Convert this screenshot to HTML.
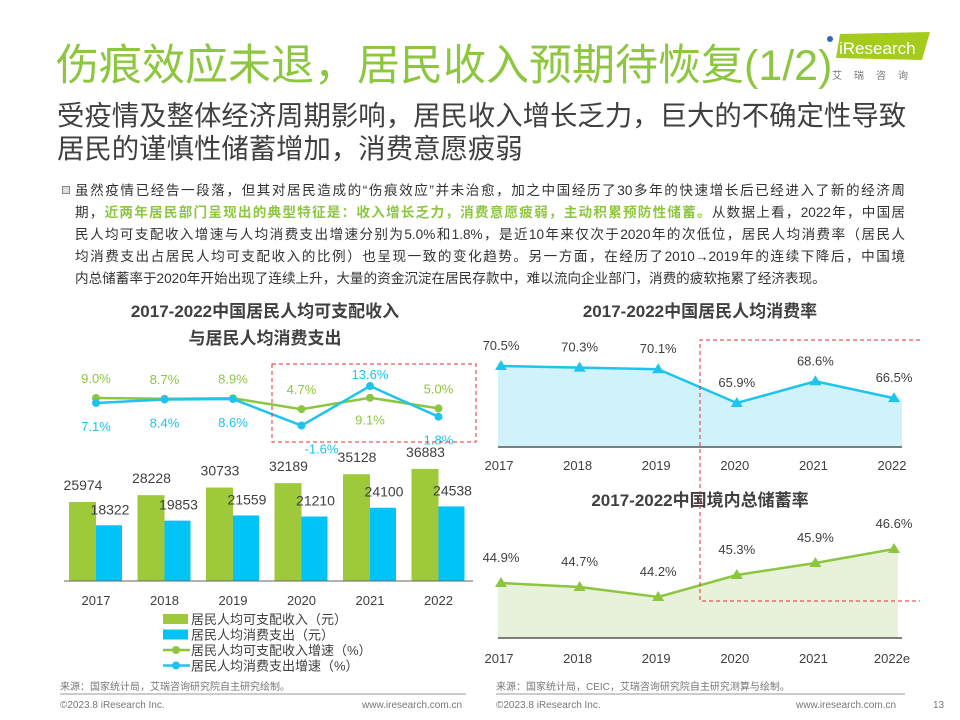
<!DOCTYPE html>
<html><head><meta charset="utf-8">
<style>
body{margin:0;width:960px;height:720px;background:#fff;position:relative;overflow:hidden;font-family:"Liberation Sans","Noto Sans CJK SC",sans-serif;}
.abs{position:absolute;}
#title{left:56px;top:39px;font-size:43px;color:#8dc63f;white-space:nowrap;line-height:55px;}
#sub{left:57px;top:99px;font-size:27.4px;color:#404040;line-height:33px;white-space:nowrap;}
#para{left:75px;top:180px;width:830px;font-size:13.6px;color:#333;line-height:22px;}
#para div{text-align:justify;text-align-last:justify;white-space:nowrap;}
#para div.last{text-align-last:left;}
.g{color:#8dc63f;font-weight:bold;}
.bullet{left:62px;top:186px;width:8px;height:8px;border:1px solid #888;background:#ddd;box-sizing:border-box;}
svg text{font-family:"Liberation Sans","Noto Sans CJK SC",sans-serif;}
</style></head><body>
<div id="title" class="abs">伤痕效应未退，居民收入预期待恢复(1/2)</div>
<div class="abs" style="left:822px;top:28px;width:120px;height:60px;">
 <svg width="120" height="60"><polygon points="18,6 108,4 100,32 14,30" fill="#a5cc1c"/><circle cx="8" cy="11" r="3" fill="#2a6ab8"/>
 <text x="17" y="26" font-size="17" fill="#fff">iResearch</text>
 <text x="10" y="51" font-size="10" fill="#777" letter-spacing="12">艾瑞咨询</text></svg>
</div>
<div id="sub" class="abs">受疫情及整体经济周期影响，居民收入增长乏力，巨大的不确定性导致<br>居民的谨慎性储蓄增加，消费意愿疲弱</div>
<div class="abs bullet"></div>
<div id="para" class="abs">
<div>虽然疫情已经告一段落，但其对居民造成的“伤痕效应”并未治愈，加之中国经历了30多年的快速增长后已经进入了新的经济周</div>
<div>期，<span class="g">近两年居民部门呈现出的典型特征是：收入增长乏力，消费意愿疲弱，主动积累预防性储蓄。</span>从数据上看，2022年，中国居</div>
<div>民人均可支配收入增速与人均消费支出增速分别为5.0%和1.8%，是近10年来仅次于2020年的次低位，居民人均消费率（居民人</div>
<div>均消费支出占居民人均可支配收入的比例）也呈现一致的变化趋势。另一方面，在经历了2010→2019年的连续下降后，中国境</div>
<div class="last">内总储蓄率于2020年开始出现了连续上升，大量的资金沉淀在居民存款中，难以流向企业部门，消费的疲软拖累了经济表现。</div>
</div>
<svg id="chart" class="abs" style="left:0;top:0" width="960" height="720"></svg>
<script>
const years = ['2017','2018','2019','2020','2021','2022'];
const income = [25974,28228,30733,32189,35128,36883];
const spend = [18322,19853,21559,21210,24100,24538];
const incomeGrowth = [9.0,8.7,8.9,4.7,9.1,5.0];
const spendGrowth = [7.1,8.4,8.6,-1.6,13.6,1.8];
const consYears = ['2017','2018','2019','2020','2021','2022'];
const consRate = [70.5,70.3,70.1,65.9,68.6,66.5];
const saveYears = ['2017','2018','2019','2020','2021','2022e'];
const saveRate = [44.9,44.7,44.2,45.3,45.9,46.6];

const svg=document.getElementById('chart');
const NS='http://www.w3.org/2000/svg';
function mk(tag,attrs,txt){const e=document.createElementNS(NS,tag);for(const k in attrs)e.setAttribute(k,attrs[k]);if(txt!==undefined)e.textContent=txt;svg.appendChild(e);return e;}
const GREEN='#9dc93a', BLUE='#10c4f4', CBLUE='#1ec4ee', LGREEN='#8cc63f';

const lx=i=>96+i*68.5;
const by=v=>581-v*0.00304;
const gy=v=>421.4-2.6*v;
let t;
t=mk('text',{x:265,y:317,'font-size':17,'font-weight':'bold','text-anchor':'middle',fill:'#404040'},'2017-2022中国居民人均可支配收入');


t=mk('text',{x:265,y:344,'font-size':17,'font-weight':'bold','text-anchor':'middle',fill:'#404040'},'与居民人均消费支出');


years.forEach((y,i)=>{
  let r=mk('rect',{x:lx(i)-27,y:by(income[i]),width:27,height:581-by(income[i]),fill:GREEN});
  
  
  r=mk('rect',{x:lx(i),y:by(spend[i]),width:26,height:581-by(spend[i]),fill:'#00c3f8'});
  
  
  let l=mk('text',{x:lx(i)-13,y:by(income[i])-12,'font-size':14,'text-anchor':'middle',fill:'#404040'},income[i]);
  
  
  l=mk('text',{x:lx(i)+14,y:by(spend[i])-11,'font-size':14,'text-anchor':'middle',fill:'#404040'},spend[i]);
  
  
  l=mk('text',{x:lx(i),y:605,'font-size':13,'text-anchor':'middle',fill:'#404040'},y);
  
  
});
t=mk('line',{x1:64,x2:473,y1:581,y2:581,stroke:'#666','stroke-width':1});


function poly(vals,xf,yf,color,name){
  const p=mk('polyline',{points:vals.map((v,i)=>xf(i)+','+yf(v)).join(' '),fill:'none',stroke:color,'stroke-width':2.5});
  
  
}
poly(incomeGrowth,lx,gy,LGREEN,'income-growth-line');
poly(spendGrowth,lx,gy,CBLUE,'spend-growth-line');
years.forEach((y,i)=>{
  let c=mk('circle',{cx:lx(i),cy:gy(incomeGrowth[i]),r:4,fill:LGREEN});
  
  
  c=mk('circle',{cx:lx(i),cy:gy(spendGrowth[i]),r:4,fill:CBLUE});
  
  
  const gAbove=incomeGrowth[i]>=spendGrowth[i];
  let l=mk('text',{x:lx(i),y:gAbove?gy(incomeGrowth[i])-15:gy(incomeGrowth[i])+27,'font-size':13,'text-anchor':'middle',fill:LGREEN},incomeGrowth[i].toFixed(1)+'%');
  
  
  l=mk('text',{x:lx(i)+(i==3?20:0),y:gAbove?gy(spendGrowth[i])+28:gy(spendGrowth[i])-7,'font-size':13,'text-anchor':'middle',fill:CBLUE},spendGrowth[i].toFixed(1)+'%');
  
  
});
t=mk('rect',{x:272,y:364,width:204,height:78,fill:'none',stroke:'#e03030','stroke-dasharray':'4,3','stroke-width':1});


const legs=['居民人均可支配收入（元）','居民人均消费支出（元）','居民人均可支配收入增速（%）','居民人均消费支出增速（%）'];
legs.forEach((s,i)=>{
  const cy=619+i*15.5;
  if(i<2){const r=mk('rect',{x:163,y:cy-5,width:25,height:10,fill:i==0?GREEN:'#00c3f8'});}
  else{const col=i==2?LGREEN:CBLUE;const ln=mk('line',{x1:163,x2:190,y1:cy,y2:cy,stroke:col,'stroke-width':2.5});const c=mk('circle',{cx:176,cy:cy,r:4,fill:col});}
  const tx=mk('text',{x:191,y:cy+5,'font-size':13,fill:'#404040'},s);
  
  
});

function area(vals,labels,base,yf,color,fillc,name,lblOff,yearY,xEnd){
  const xf=i=>501+i*78.6;
  let d='M498,'+base+' L498,'+yf(vals[0]);
  vals.forEach((v,i)=>{d+=' L'+xf(i)+','+yf(v);});
  d+=' L'+xEnd+','+yf(vals[vals.length-1])+' L'+xEnd+','+base+' Z';
  const a=mk('path',{d:d,fill:fillc});
  
  
  poly(vals,xf,yf,color,name+'-line');
  const ax=mk('line',{x1:498,x2:902,y1:base,y2:base,stroke:'#555','stroke-width':1.5});
  
  
  vals.forEach((v,i)=>{
    const x=xf(i),y=yf(v);
    const m=mk('polygon',{points:(x-6)+','+(y+4)+' '+x+','+(y-6)+' '+(x+6)+','+(y+4),fill:color});
    
    
    const l=mk('text',{x:x,y:y+lblOff,'font-size':13,'text-anchor':'middle',fill:'#404040'},v.toFixed(1)+'%');
    
    
    const yl=mk('text',{x:x-2,y:yearY,'font-size':13,'text-anchor':'middle',fill:'#404040'},labels[i]);
    
    
  });
}
t=mk('text',{x:700,y:317,'font-size':17,'font-weight':'bold','text-anchor':'middle',fill:'#404040'},'2017-2022中国居民人均消费率');


area(consRate,consYears,447,v=>366+(70.5-v)*8.04,CBLUE,'#d0f2fb','consumption-rate',-16,470,902);
t=mk('text',{x:700,y:506,'font-size':17,'font-weight':'bold','text-anchor':'middle',fill:'#404040'},'2017-2022中国境内总储蓄率');


area(saveRate,saveYears,638,v=>583+(44.9-v)*20,LGREEN,'#e8f1da','savings-rate',-21,663,898);
t=mk('path',{d:'M920,340 L700,340 L700,601 L920,601',fill:'none',stroke:'#e03030','stroke-dasharray':'4,3','stroke-width':1});



const ft=[[60,690,'来源：国家统计局，艾瑞咨询研究院自主研究绘制。'],[496,690,'来源：国家统计局，CEIC，艾瑞咨询研究院自主研究测算与绘制。'],[60,708,'©2023.8 iResearch Inc.'],[362,708,'www.iresearch.com.cn'],[496,708,'©2023.8 iResearch Inc.'],[796,708,'www.iresearch.com.cn'],[933,708,'13']];
ft.forEach(f=>{const e=mk('text',{x:f[0],y:f[1],'font-size':10,fill:'#777'},f[2]);});
t=mk('line',{x1:60,x2:466,y1:694,y2:694,stroke:'#bbb','stroke-width':1.5});


t=mk('line',{x1:496,x2:905,y1:694,y2:694,stroke:'#bbb','stroke-width':1.5});


</script>
</body></html>
